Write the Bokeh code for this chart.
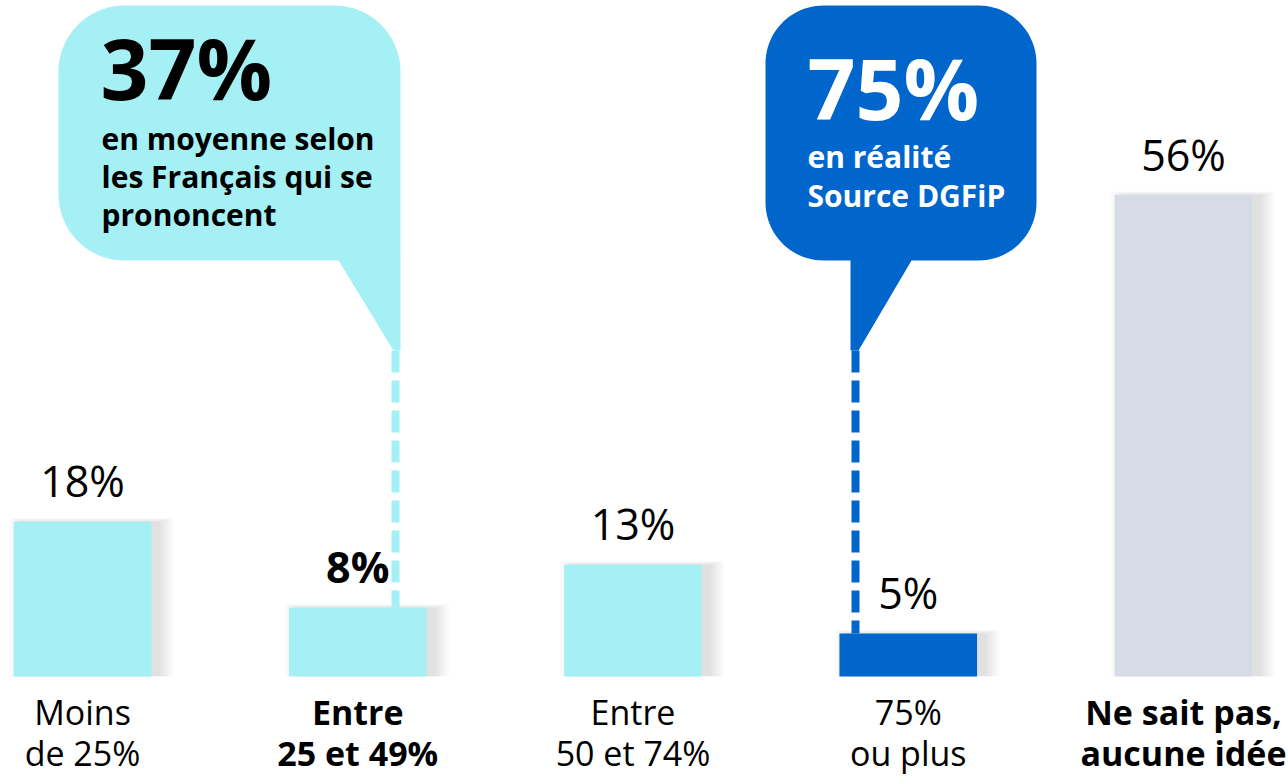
import numpy as np
from bokeh.plotting import figure
from bokeh.models import Range1d, ColumnDataSource
from bokeh.core.properties import value
from bokeh.embed import file_html
from bokeh.resources import INLINE

# ---------------- data ----------------
cat_line1 = ["Moins", "Entre", "Entre", "75%", "Ne sait pas,"]
cat_line2 = ["de 25%", "25 et 49%", "50 et 74%", "ou plus", "aucune idée"]
values = [18, 8, 13, 5, 56]
value_labels = ["18%", "8%", "13%", "5%", "56%"]
bar_colors = ["#A5F0F5", "#A5F0F5", "#A5F0F5", "#0066CC", "#D5DCE6"]
label_styles = ["normal", "bold", "normal", "normal", "bold"]
value_styles = ["normal", "bold", "normal", "normal", "normal"]

bubble1_big = "37%"
bubble1_lines = ["en moyenne selon", "les Français qui se", "prononcent"]
bubble2_big = "75%"
bubble2_lines = ["en réalité", "Source DGFiP"]

FONT = "Open Sans"
CYAN = "#A5F0F5"
BLUE = "#0066CC"

# ---------------- scales (pixel <-> data helpers for decorations) ----------------
PX_X0, PX_PER_X = 82.0, 275.25     # pixel of category 0, pixels per category
PX_Y0, PX_PER_Y = 676.0, 8.6       # pixel of 0 %, pixels per %
W, H = 1288, 777
BASE_FIX = 0.39                    # baseline correction (fraction of font size)


def dx(px):
    return (px - PX_X0) / PX_PER_X


def dy(py):
    return (PX_Y0 - py) / PX_PER_Y


p = figure(width=W, height=H, output_backend="svg", toolbar_location=None,
           x_range=Range1d(dx(0), dx(W)), y_range=Range1d(dy(H), dy(0)),
           x_axis_type=None, y_axis_type=None, min_border=0,
           background_fill_color="white", border_fill_color="white")
p.outline_line_color = None
p.grid.visible = False

xs = list(range(len(values)))
src = ColumnDataSource(dict(x=xs, top=values, color=bar_colors, vlab=value_labels,
                            l1=cat_line1, l2=cat_line2, ls=label_styles, vs=value_styles))

# ---------------- soft shadows ----------------
BAR_W = 0.5
for i in range(10):
    grow = (i * 1.5) / PX_PER_X
    p.vbar(x=[x + 9 / PX_PER_X for x in xs], width=BAR_W + 2 * grow,
           top=[v + (i * 0.4) / PX_PER_Y for v in values], bottom=0,
           fill_color="black", fill_alpha=0.011, line_color=None)

# ---------------- bars ----------------
p.vbar(x="x", width=BAR_W, top="top", bottom=0, fill_color="color",
       line_color=None, source=src)


# ---------------- bubbles ----------------
def arc(cx, cy, r, a0, a1, n=24):
    a = np.radians(np.linspace(a0, a1, n))
    return list(cx + r * np.cos(a)), list(cy + r * np.sin(a))


def bubble1():
    L, R, T, B, r = 58, 400, 5, 260, 66
    X, Y = [], []
    ax, ay = arc(R - r, T + r, r, -90, 0); X += ax; Y += ay
    X += [R, R, 393, 338]; Y += [T + r, 350, 350, B]
    ax, ay = arc(L + r, B - r, r, 90, 180); X += ax; Y += ay
    ax, ay = arc(L + r, T + r, r, 180, 270); X += ax; Y += ay
    return X, Y


def bubble2():
    L, R, T, B, r = 765, 1036, 5, 260, 58
    X, Y = [], []
    ax, ay = arc(R - r, T + r, r, -90, 0); X += ax; Y += ay
    ax, ay = arc(R - r, B - r, r, 0, 90); X += ax; Y += ay
    X += [911, 858, 850, 850]; Y += [B, 350, 350, B]
    ax, ay = arc(L + r, B - r, r, 90, 180); X += ax; Y += ay
    ax, ay = arc(L + r, T + r, r, 180, 270); X += ax; Y += ay
    return X, Y


for (bx, by), col in ((bubble1(), CYAN), (bubble2(), BLUE)):
    p.patch([dx(v) for v in bx], [dy(v) for v in by], fill_color=col, line_color=None)

# dashed connectors from bubble tails to the bars
p.segment(x0=[dx(395)], y0=[dy(350)], x1=[dx(395)], y1=[values[1]],
          line_color=CYAN, line_width=8, line_dash="22 8", line_cap="butt")
p.segment(x0=[dx(855)], y0=[dy(350)], x1=[dx(855)], y1=[values[3]],
          line_color=BLUE, line_width=8, line_dash="22 8", line_cap="butt")


def btext(xpx, ypx_list, texts, size, color):
    p.text(x=[dx(xpx)] * len(texts), y=[dy(v - BASE_FIX * size) for v in ypx_list],
           text=texts, text_font=value(FONT), text_font_style="bold",
           text_font_size=f"{size}px", text_color=color,
           text_baseline="alphabetic", text_align="left")


BIG, SMALL = 84, 30
btext(100, [100], [bubble1_big], BIG, "black")
btext(101, [150, 188, 226], bubble1_lines, SMALL, "black")
btext(807, [120], [bubble2_big], BIG, "white")
btext(807, [168, 207], bubble2_lines, SMALL, "white")

# ---------------- value labels ----------------
VAL_FS = 43
p.text(x="x", y="top", text="vlab", source=src, y_offset=-24 - BASE_FIX * VAL_FS,
       text_font=value(FONT), text_font_style="vs", text_font_size=f"{VAL_FS}px",
       text_color="black", text_align="center", text_baseline="alphabetic")

# ---------------- category labels ----------------
CAT_FS = 34
p.text(x="x", y=0, text="l1", source=src, y_offset=49 - BASE_FIX * CAT_FS,
       text_font=value(FONT), text_font_style="ls", text_font_size=f"{CAT_FS}px",
       text_color="black", text_align="center", text_baseline="alphabetic")
p.text(x="x", y=0, text="l2", source=src, y_offset=90 - BASE_FIX * CAT_FS,
       text_font=value(FONT), text_font_style="ls", text_font_size=f"{CAT_FS}px",
       text_color="black", text_align="center", text_baseline="alphabetic")

open("out.html", "w").write(file_html(p, INLINE))
